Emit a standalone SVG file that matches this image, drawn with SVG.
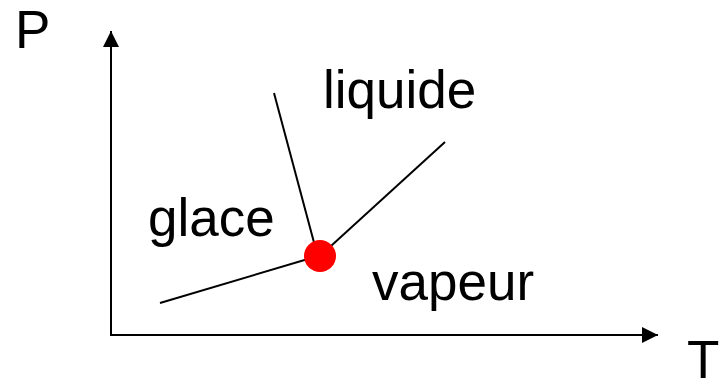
<svg xmlns="http://www.w3.org/2000/svg" width="722" height="382" viewBox="0 0 722 382">
<style>
text{font-family:"Liberation Sans",Arial,sans-serif;font-size:53px;fill:#000}
.ln{stroke:#000;stroke-width:2;fill:none}
</style>
<defs>
<marker id="ah" viewBox="0 0 16 16" refX="16" refY="8" markerWidth="16" markerHeight="16" markerUnits="userSpaceOnUse" orient="auto">
<path d="M0,0 L16,8 L0,16 Z" fill="#000"/>
</marker>
</defs>
<rect width="722" height="382" fill="#fff"/>
<g id="axes">
<line class="ln" x1="111" y1="335" x2="111" y2="31" marker-end="url(#ah)"/>
<line class="ln" x1="110" y1="335" x2="658" y2="335" marker-end="url(#ah)"/>
</g>
<g id="connectors">
<line class="ln" x1="274" y1="93" x2="316" y2="250"/>
<line class="ln" x1="320" y1="256" x2="445" y2="142"/>
<line class="ln" x1="160" y1="303" x2="318" y2="256"/>
</g>
<g id="triple-point"><circle cx="320" cy="256" r="16" fill="#f00"/></g>
<g id="label-P"><text x="15" y="48">P</text></g>
<g id="label-T"><text x="687" y="378">T</text></g>
<g id="label-liquide"><text x="323" y="108">liquide</text></g>
<g id="label-glace"><text x="148" y="236">glace</text></g>
<g id="label-vapeur"><text x="372" y="300">vapeur</text></g>
</svg>
